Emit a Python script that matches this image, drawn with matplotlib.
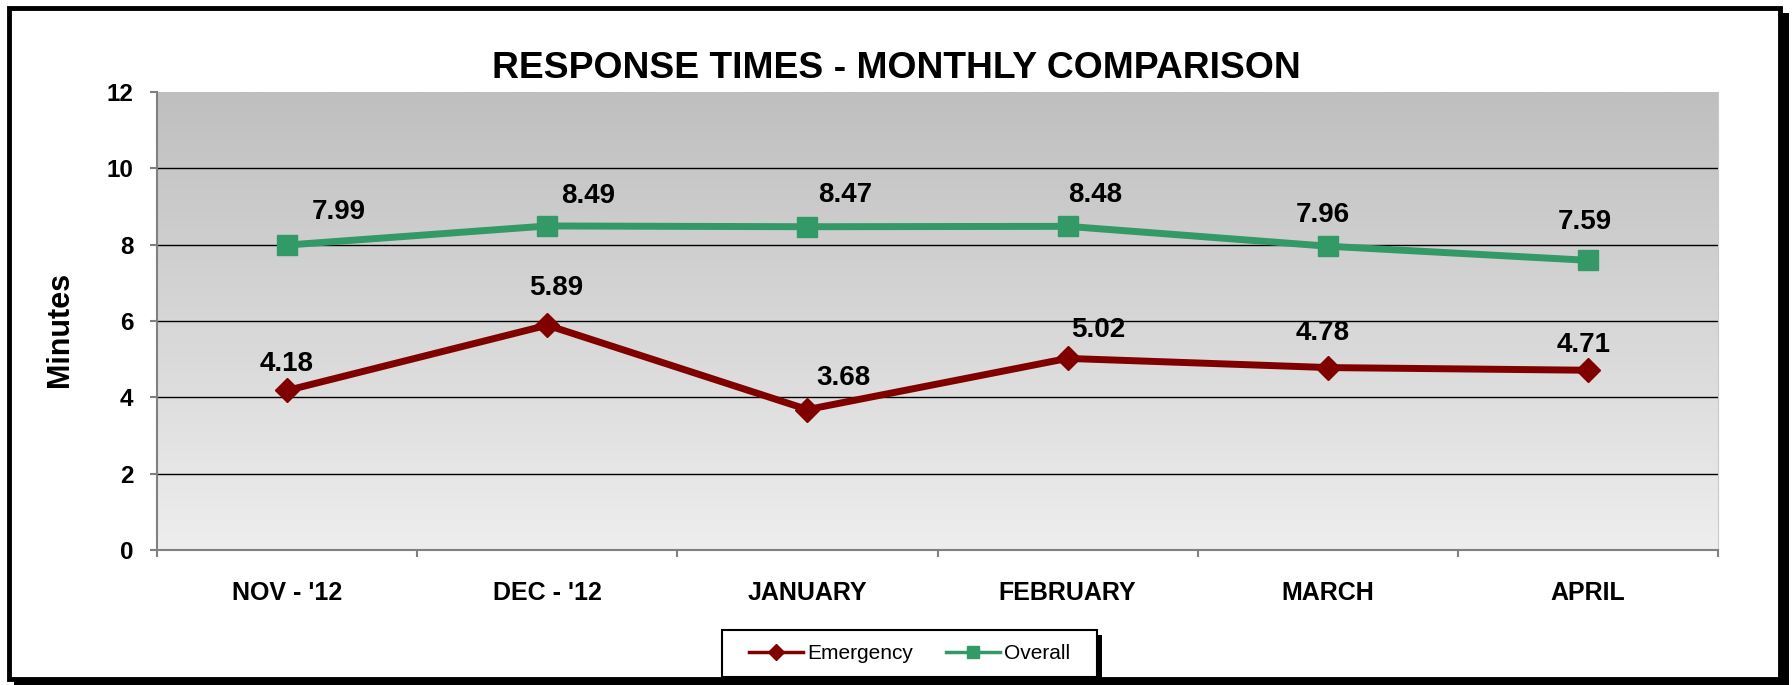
import numpy as np
import matplotlib
matplotlib.use("Agg")
import matplotlib.pyplot as plt
from matplotlib.patches import Rectangle
from matplotlib.lines import Line2D
from matplotlib.colors import LinearSegmentedColormap

plt.rcParams['font.family'] = ['Liberation Sans', 'DejaVu Sans']

categories = ["NOV - '12", "DEC - '12", "JANUARY", "FEBRUARY", "MARCH", "APRIL"]
emergency = [4.18, 5.89, 3.68, 5.02, 4.78, 4.71]
overall = [7.99, 8.49, 8.47, 8.48, 7.96, 7.59]
series_names = ["Emergency", "Overall"]
yticks = [0, 2, 4, 6, 8, 10, 12]

# label placement offsets (pixels, relative to the point) - layout only
emg_offsets = [(0, 29), (9, 40), (36, 35), (31, 31), (-5, 38), (-4, 28)]
ovr_offsets = [(52, 36), (41, 33), (38, 35), (28, 34), (-5, 34), (-3, 41)]

W, H = 1792, 685
fig = plt.figure(figsize=(W / 100, H / 100), dpi=100)

# outer frame with shadow
fig.patches.append(Rectangle((14 / W, 1 - 685 / H), 1775 / W, 672 / H, transform=fig.transFigure,
                             facecolor='black', edgecolor='none', zorder=0))
fig.patches.append(Rectangle((9 / W, 1 - 679 / H), 1771 / W, 671 / H, transform=fig.transFigure,
                             facecolor='white', edgecolor='black', linewidth=3.5, zorder=1))

ax_l, ax_t, ax_r, ax_b = 157, 92, 1718, 550
ax = fig.add_axes([ax_l / W, 1 - ax_b / H, (ax_r - ax_l) / W, (ax_b - ax_t) / H], zorder=2)

n = len(categories)
x = np.arange(n) + 0.5
ax.set_xlim(0, n)
ax.set_ylim(0, 12)

grad = np.linspace(0, 1, 256).reshape(-1, 1)
cmap = LinearSegmentedColormap.from_list('g', ['#eeeeee', '#bfbfbf'])
ax.imshow(grad, extent=[0, n, 0, 12], origin='lower', aspect='auto', cmap=cmap, zorder=0)

for yv in yticks[1:-1]:
    ax.axhline(yv, color='black', linewidth=1.0, zorder=1)

ax.plot(x, emergency, color='#800000', linewidth=5, marker='D', markersize=12.5, zorder=3,
        label=series_names[0])
ax.plot(x, overall, color='#339966', linewidth=5, marker='s', markersize=14, zorder=3,
        label=series_names[1])

for xi, v, off in zip(x, emergency, emg_offsets):
    ax.annotate(f"{v:.2f}", (xi, v), xytext=off, textcoords='offset pixels',
                ha='center', va='center_baseline', fontsize=20, fontweight='bold', zorder=4)
for xi, v, off in zip(x, overall, ovr_offsets):
    ax.annotate(f"{v:.2f}", (xi, v), xytext=off, textcoords='offset pixels',
                ha='center', va='center_baseline', fontsize=20, fontweight='bold', zorder=4)

ax.set_yticks(yticks)
ax.set_yticklabels([str(v) for v in yticks], fontsize=17.5, fontweight='bold')
ax.set_xticks(x)
ax.set_xticklabels(categories, fontsize=18, fontweight='bold')
ax.set_xticks(np.arange(n + 1), minor=True)
ax.tick_params(axis='x', which='major', length=0, pad=22)
ax.tick_params(axis='x', which='minor', length=5, color='#808080', width=1.5, direction='out')
ax.tick_params(axis='y', length=5, color='#808080', width=1.5, pad=12)

ax.spines['top'].set_visible(False)
ax.spines['right'].set_color('#c8c8c8')
ax.spines['left'].set_color('#808080')
ax.spines['bottom'].set_color('#808080')
ax.spines['left'].set_linewidth(1.5)
ax.spines['bottom'].set_linewidth(1.5)

fig.text(60 / W, 1 - 329 / H, "Minutes", rotation=90, ha='center', va='center',
         fontsize=22, fontweight='bold')

fig.text(0.5, 1 - 65 / H, "RESPONSE TIMES - MONTHLY COMPARISON",
         ha='center', va='center_baseline', fontsize=26.8, fontweight='bold', zorder=5)

# legend with shadow
lx0, ly0, lx1, ly1 = 722, 630, 1097, 677
fig.patches.append(Rectangle(((lx0 + 5) / W, 1 - (ly1 + 5) / H), (lx1 - lx0) / W, (ly1 - ly0) / H,
                             transform=fig.transFigure, facecolor='black', edgecolor='none', zorder=3))
fig.patches.append(Rectangle((lx0 / W, 1 - ly1 / H), (lx1 - lx0) / W, (ly1 - ly0) / H,
                             transform=fig.transFigure, facecolor='white', edgecolor='black',
                             linewidth=1.5, zorder=4))
handles = [Line2D([], [], color='#800000', linewidth=2.5, marker='D', markersize=8),
           Line2D([], [], color='#339966', linewidth=2.5, marker='s', markersize=9)]
leg = fig.legend(handles, series_names, loc='center',
                 bbox_to_anchor=((lx0 + lx1) / 2 / W, 1 - (ly0 + ly1) / 2 / H),
                 ncol=2, frameon=False, fontsize=15, handlelength=2.6, columnspacing=1.6,
                 handletextpad=0.2)
leg.set_zorder(6)

fig.savefig("out.png", dpi=100)
